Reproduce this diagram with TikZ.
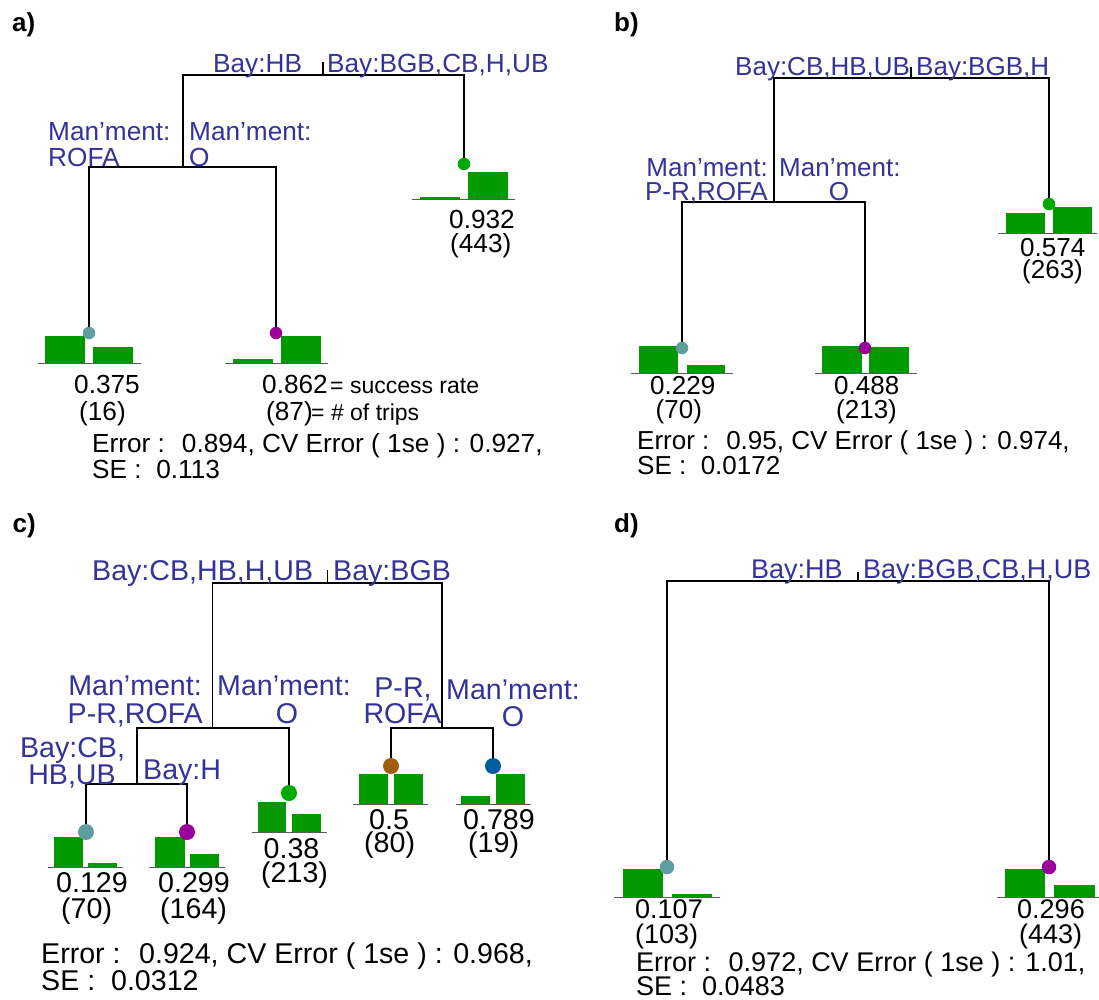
\documentclass[tikz,border=0pt]{standalone}
\usepackage{fontspec}
\setmainfont{Liberation Sans}
\definecolor{lbl}{RGB}{51,51,153}
\definecolor{barg}{RGB}{0,153,0}
\definecolor{dteal}{RGB}{95,158,160}
\definecolor{dpurp}{RGB}{153,0,153}
\definecolor{dgreen}{RGB}{0,170,0}
\definecolor{dbrown}{RGB}{160,94,10}
\definecolor{dblue}{RGB}{0,94,160}
\def\pfs{26}
\tikzset{
  treeline/.style={draw=black, line width=1.4pt},
  splitlbl/.style={text=lbl, inner sep=0pt, font=\fontsize{\pfs}{\pfs}\selectfont},
  val/.style={text=black, inner sep=0pt, font=\fontsize{\pfs}{\pfs}\selectfont},
  notelbl/.style={text=black, inner sep=0pt, font=\fontsize{23}{27}\selectfont},
  panellbl/.style={inner sep=0pt, font=\bfseries\fontsize{26}{30}\selectfont},
  barfill/.style={fill=barg, draw=none},
  barbase/.style={draw=black!65, line width=1pt},
  dotn/.style={circle, inner sep=0pt, draw=none},
}
\newcommand\leafbars[9]{%
  \fill[barfill] (#4,#6) rectangle (#5,#1);
  \fill[barfill] (#7,#9) rectangle (#8,#1);
  \draw[barbase] (#2,#1) -- (#3,#1);
}
\begin{document}
\begin{tikzpicture}[x=1pt,y=-1pt]
\useasboundingbox (0,0) rectangle (1099,999);
\fill[white] (0,0) rectangle (1099,999);

% ================= panel a =================
\def\pfs{26.2}
\node[panellbl, anchor=base west] (pa) at (12,31) {a)};
\coordinate (a-n1) at (323,75);
\coordinate (a-nt) at (323,62);
\coordinate (a-n2) at (183,167);
\coordinate (a-d1) at (464,164);
\coordinate (a-d2) at (89,333);
\coordinate (a-d3) at (276,333);
\leafbars{199}{412}{515}{420}{460}{197}{468}{507.5}{172}
\leafbars{363}{37.5}{141}{45}{85}{336}{93}{133}{347}
\leafbars{363}{225}{328}{232.5}{272.5}{359}{281}{321}{336}
\draw[treeline] (a-n2) |- (a-n1) -| (a-d1);
\draw[treeline] (a-n1) -- (a-nt);
\draw[treeline] (a-d2) |- (a-n2) -| (a-d3);
\node[dotn, fill=dgreen, minimum size=12.5pt] (a-p1) at (a-d1) {};
\node[dotn, fill=dteal, minimum size=12.5pt] (a-p2) at (a-d2) {};
\node[dotn, fill=dpurp, minimum size=12.5pt] (a-p3) at (a-d3) {};
\node[splitlbl, anchor=base west] (a-s1l) at (213,72) {Bay:HB};
\node[splitlbl, anchor=base west] (a-s1r) at (327,72) {Bay:BGB,CB,H,UB};
\node[splitlbl, anchor=base west] (a-s2l1) at (48,140) {Man’ment:};
\node[splitlbl, anchor=base west] (a-s2l2) at (48,166) {ROFA};
\node[splitlbl, anchor=base west] (a-s2r1) at (189,140) {Man’ment:};
\node[splitlbl, anchor=base west] (a-s2r2) at (189,166) {O};
\node[val, anchor=base west] (a-v1) at (449,228) {0.932};
\node[val, anchor=base west] (a-c1) at (450,252) {(443)};
\node[val, anchor=base west] (a-v2) at (74,393) {0.375};
\node[val, anchor=base west] (a-c2) at (79,420) {(16)};
\node[val, anchor=base west] (a-v3) at (262,393) {0.862};
\node[notelbl, anchor=base west] (a-n-sr) at (330,393) {= success rate};
\node[val, anchor=base west] (a-c3) at (266,420) {(87)};
\node[notelbl, anchor=base west] (a-n-tr) at (311,420) {= \# of trips};
\node[val, anchor=base west] (a-e1) at (92,452) {Error :~ 0.894, CV Error ( 1se ) : 0.927,};
\node[val, anchor=base west] (a-e2) at (92,478) {SE :~ 0.113};

% ================= panel b =================
\def\pfs{26}
\node[panellbl, anchor=base west] (pb) at (614,31) {b)};
\coordinate (b-n1) at (911,78);
\coordinate (b-nt) at (911,67);
\coordinate (b-n2) at (774,202);
\coordinate (b-d1) at (1049,204);
\coordinate (b-d2) at (682,348);
\coordinate (b-d3) at (865,348);
\leafbars{233}{998}{1097}{1006}{1045}{213}{1053}{1092}{207}
\leafbars{373}{631}{733}{639}{678}{346}{686.5}{725}{365}
\leafbars{373}{815}{917}{822}{862}{346}{869}{909}{347}
\draw[treeline] (b-n2) |- (b-n1) -| (b-d1);
\draw[treeline] (b-n1) -- (b-nt);
\draw[treeline] (b-d2) |- (b-n2) -| (b-d3);
\node[dotn, fill=dgreen, minimum size=12.5pt] (b-p1) at (b-d1) {};
\node[dotn, fill=dteal, minimum size=12.5pt] (b-p2) at (b-d2) {};
\node[dotn, fill=dpurp, minimum size=12.5pt] (b-p3) at (b-d3) {};
\node[splitlbl, anchor=base west] (b-s1l) at (735,75) {Bay:CB,HB,UB};
\node[splitlbl, anchor=base west] (b-s1r) at (916,75) {Bay:BGB,H};
\node[splitlbl, anchor=base east] (b-s2l1) at (768,176) {Man’ment:};
\node[splitlbl, anchor=base east] (b-s2l2) at (768,200) {P-R,ROFA};
\node[splitlbl, anchor=base west] (b-s2r1) at (779,176) {Man’ment:};
\node[splitlbl, anchor=base] (b-s2r2) at (839,200) {O};
\node[val, anchor=base west] (b-v1) at (1020,256) {0.574};
\node[val, anchor=base west] (b-c1) at (1022,278) {(263)};
\node[val, anchor=base west] (b-v2) at (650,394) {0.229};
\node[val, anchor=base west] (b-c2) at (655.5,418) {(70)};
\node[val, anchor=base west] (b-v3) at (834,394) {0.488};
\node[val, anchor=base west] (b-c3) at (836,418) {(213)};
\node[val, anchor=base west] (b-e1) at (637,449) {Error :~ 0.95, CV Error ( 1se ) : 0.974,};
\node[val, anchor=base west] (b-e2) at (637,474) {SE :~ 0.0172};

% ================= panel c =================
\def\pfs{28.6}
\node[panellbl, anchor=base west] (pc) at (12.5,532) {c)};
\coordinate (c-n1) at (327.5,583);
\coordinate (c-nt) at (327.5,570);
\coordinate (c-n2) at (212.5,728);
\coordinate (c-n3) at (442,728);
\coordinate (c-n4) at (137,784);
\coordinate (c-d1) at (86,832);
\coordinate (c-d2) at (187,832);
\coordinate (c-d3) at (289,793);
\coordinate (c-d4) at (391,766);
\coordinate (c-d5) at (493,766);
\leafbars{867}{47.5}{122.5}{53.5}{83}{837}{88}{117}{863}
\leafbars{867}{149}{225}{155}{185}{837}{190}{218.5}{854}
\leafbars{832}{252}{327}{258}{286}{802}{292}{321}{814}
\leafbars{804}{353}{428}{359}{388}{774}{394}{423}{774}
\leafbars{804}{456}{531}{461}{490}{796}{496}{525}{774}
\draw[treeline] (c-n2) |- (c-n1) -| (c-n3);
\draw[treeline] (c-n1) -- (c-nt);
\draw[treeline] (c-n4) |- (c-n2) -| (c-d3);
\draw[treeline] (c-d4) |- (c-n3) -| (c-d5);
\draw[treeline] (c-d1) |- (c-n4) -| (c-d2);
\node[dotn, fill=dteal, minimum size=16pt] (c-p1) at (c-d1) {};
\node[dotn, fill=dpurp, minimum size=16pt] (c-p2) at (c-d2) {};
\node[dotn, fill=dgreen, minimum size=16pt] (c-p3) at (c-d3) {};
\node[dotn, fill=dbrown, minimum size=16pt] (c-p4) at (c-d4) {};
\node[dotn, fill=dblue, minimum size=16pt] (c-p5) at (c-d5) {};
\node[splitlbl, anchor=base west] (c-s1l) at (92,580) {Bay:CB,HB,H,UB};
\node[splitlbl, anchor=base west] (c-s1r) at (333,580) {Bay:BGB};
\node[splitlbl, anchor=base east] (c-s2l1) at (202,695) {Man’ment:};
\node[splitlbl, anchor=base east] (c-s2l2) at (203,723) {P-R,ROFA};
\node[splitlbl, anchor=base west] (c-s2r1) at (217,695) {Man’ment:};
\node[splitlbl, anchor=base] (c-s2r2) at (287,723) {O};
\node[splitlbl, anchor=base] (c-s3l1) at (403,697) {P-R,};
\node[splitlbl, anchor=base] (c-s3l2) at (402.5,723) {ROFA};
\node[splitlbl, anchor=base] (c-s3r1) at (513,699) {Man’ment:};
\node[splitlbl, anchor=base] (c-s3r2) at (513,726) {O};
\node[splitlbl, anchor=base] (c-s4l1) at (72.5,757) {Bay:CB,};
\node[splitlbl, anchor=base] (c-s4l2) at (72,784) {HB,UB};
\node[splitlbl, anchor=base west] (c-s4r) at (143,779) {Bay:H};
\node[val, anchor=base west] (c-v1) at (56,892) {0.129};
\node[val, anchor=base west] (c-c1) at (61,918) {(70)};
\node[val, anchor=base west] (c-v2) at (158,892) {0.299};
\node[val, anchor=base west] (c-c2) at (160,918) {(164)};
\node[val, anchor=base west] (c-v3) at (263.5,858) {0.38};
\node[val, anchor=base west] (c-c3) at (261,882) {(213)};
\node[val, anchor=base west] (c-v4) at (369,829) {0.5};
\node[val, anchor=base west] (c-c4) at (364,852) {(80)};
\node[val, anchor=base west] (c-v5) at (463,829) {0.789};
\node[val, anchor=base west] (c-c5) at (468,852) {(19)};
\node[val, anchor=base west] (c-e1) at (41,963) {Error :~ 0.924, CV Error ( 1se ) : 0.968,};
\node[val, anchor=base west] (c-e2) at (41,990) {SE :~ 0.0312};

% ================= panel d =================
\def\pfs{27}
\node[panellbl, anchor=base west] (pd) at (614,532) {d)};
\coordinate (d-n1) at (858,581);
\coordinate (d-nt) at (858,572);
\coordinate (d-d1) at (667,867);
\coordinate (d-d2) at (1049,867);
\leafbars{897}{614}{720}{622.5}{662.5}{869}{672}{712}{894}
\leafbars{897}{997}{1099}{1004.5}{1045}{869}{1054}{1094.5}{885}
\draw[treeline] (d-d1) |- (d-n1) -| (d-d2);
\draw[treeline] (d-n1) -- (d-nt);
\node[dotn, fill=dteal, minimum size=14.5pt] (d-p1) at (d-d1) {};
\node[dotn, fill=dpurp, minimum size=14.5pt] (d-p2) at (d-d2) {};
\node[splitlbl, anchor=base west] (d-s1l) at (751,578) {Bay:HB};
\node[splitlbl, anchor=base west] (d-s1r) at (863,578) {Bay:BGB,CB,H,UB};
\node[val, anchor=base west] (d-v1) at (635,918) {0.107};
\node[val, anchor=base west] (d-c1) at (635,943) {(103)};
\node[val, anchor=base west] (d-v2) at (1017,918) {0.296};
\node[val, anchor=base west] (d-c2) at (1019,943) {(443)};
\node[val, anchor=base west] (d-e1) at (636,971) {Error :~ 0.972, CV Error ( 1se ) : 1.01,};
\node[val, anchor=base west] (d-e2) at (636,995) {SE :~ 0.0483};
\end{tikzpicture}
\end{document}
